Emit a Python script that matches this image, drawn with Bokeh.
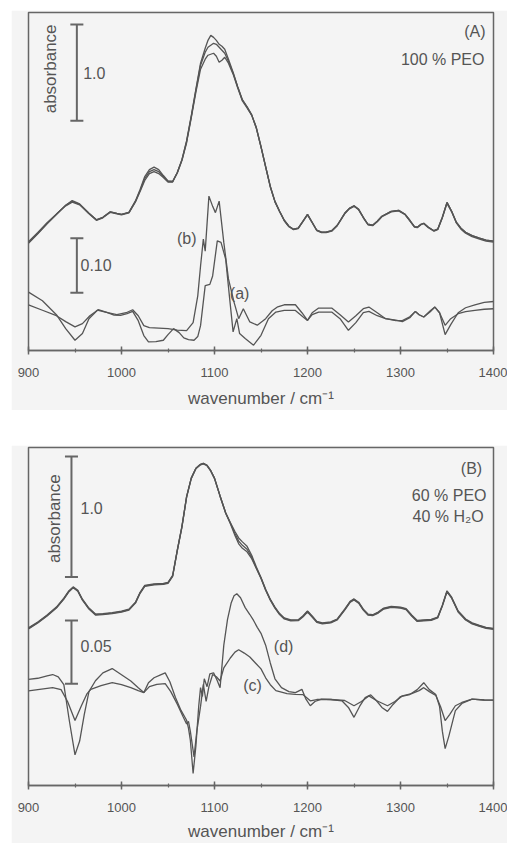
import math
from bokeh.plotting import figure
from bokeh.models import Range1d, SingleIntervalTicker, Spacer
from bokeh.layouts import column, row
from bokeh.embed import file_html
from bokeh.resources import INLINE
from bokeh.core.properties import value

# ---------------- data (y in plot units above the frame bottom) ----------
# Panel A: 100 % PEO, absorbance spectra (three nearly coincident curves)
A_WN = [900, 910, 920, 930, 940, 947, 955, 965, 973, 980,
        988, 995, 1000, 1008, 1015, 1020, 1025, 1030, 1035, 1040,
        1045, 1050, 1055, 1060, 1065, 1070, 1075, 1080, 1085, 1090,
        1093, 1096, 1099, 1102, 1105, 1108, 1111, 1115, 1120, 1125,
        1130, 1135, 1140, 1145, 1150, 1155, 1160, 1165, 1170, 1175,
        1180, 1185, 1190, 1195, 1200, 1205, 1210, 1215, 1220, 1226,
        1232, 1240, 1245, 1250, 1255, 1260, 1265, 1270, 1275, 1280,
        1290, 1298, 1305, 1310, 1315, 1318, 1322, 1325, 1330, 1336,
        1340, 1345, 1350, 1355, 1360, 1365, 1370, 1377, 1385, 1392,
        1400]
A_ABS_1 = [107.8, 117.3, 127.5, 136.8, 146.2, 150.8, 147.5, 138, 131.5, 134,
           139.5, 138, 137, 139, 150.5, 162, 175, 182, 184.5, 182,
           176, 170.5, 170, 179, 192, 211, 236, 263, 289, 304,
           312, 317, 315, 312, 308, 306, 303, 293, 280, 265,
           252, 245, 237, 224, 205, 185, 165, 150, 140, 131,
           125, 122, 123, 130, 137, 129, 121, 119, 119, 120.5,
           126, 138, 143, 145.5, 142, 134, 127, 126, 130, 135,
           140, 141, 137, 131, 124.5, 124, 127, 128, 124, 120.5,
           122, 134, 149, 140, 129, 123, 119, 115.5, 113, 111,
           110]
A_ABS_2 = [108.7, 118, 128, 137, 146, 150, 147, 138, 131.5, 134,
           139.5, 138, 137, 139, 150, 161, 173, 180, 182, 180,
           175, 170, 170, 179, 192, 210, 235, 262, 287, 300,
           305, 307, 309, 308, 305, 302, 299, 291, 279, 265,
           252, 245, 237, 224, 205, 185, 165, 150, 140, 131,
           125, 122, 123, 130, 137, 129, 121, 119, 119, 120.5,
           126, 138, 143, 145.5, 142, 134, 127, 126, 130, 135,
           140, 141, 137, 131, 124.5, 124, 127, 128, 124, 120.5,
           122, 134, 149, 140, 129, 123, 119, 115.5, 113, 111,
           110]
A_ABS_3 = [109.5, 118.8, 128.5, 137.2, 145.5, 149.3, 146.5, 137.5, 131, 133.5,
           139, 137.5, 136.5, 138.5, 149.5, 160, 171, 178, 180, 178,
           174, 169.5, 169.5, 178.5, 191, 209, 234, 260, 283, 293,
           297, 298, 299, 296, 290, 292, 295, 289, 278, 264,
           251, 244, 236.5, 223.5, 204.5, 184.5, 164.5, 149.5, 139.5, 130.5,
           124.5, 121.5, 122.5, 129.5, 136.5, 128.5, 120.5, 118.5, 118.5, 120,
           125.5, 137.5, 142.5, 145, 141.5, 133.5, 126.5, 125.5, 129.5, 134.5,
           139.5, 140.5, 136.5, 130.5, 124, 123.5, 126.5, 127.5, 123.5, 120,
           121.5, 133.5, 148, 139.5, 128.5, 122, 118, 114.5, 112, 110,
           109]

# Panel A difference spectra (a) and (b)
A_DA_WN = [900, 915, 930, 940, 950, 958, 965, 974, 985, 992,
           999, 1006, 1012, 1018, 1024, 1029, 1037, 1045, 1050, 1056,
           1062, 1067, 1072, 1078, 1082, 1085, 1090, 1095, 1098, 1103,
           1107, 1112, 1116, 1120, 1124, 1127, 1133, 1142, 1150, 1158,
           1166, 1175, 1187, 1195, 1200, 1205, 1212, 1226, 1235, 1244,
           1252, 1260, 1266, 1275, 1284, 1295, 1302, 1310, 1316, 1320,
           1325, 1332, 1337, 1342, 1348, 1354, 1362, 1370, 1380, 1390,
           1400]
A_DA = [58.7, 50, 36, 22, 10.3, 17, 32, 40.5, 38, 35.5,
        35.3, 37, 39.3, 30, 15, 8.7, 9, 10.3, 16, 22,
        18, 12.7, 11, 10.3, 14, 25, 65.3, 66.5, 75, 110.3,
        108.7, 92, 55, 18.7, 32, 17, 12, 5.3, 15.3, 32,
        38.7, 40.3, 40.3, 34, 30.3, 36, 38.7, 38.7, 32, 20.3,
        28, 38, 39.3, 35, 32, 30.5, 29, 33, 39.3, 36,
        33.7, 39, 43.7, 38, 16, 26, 38, 43, 46, 48.5,
        49.3]
A_DB_WN = [900, 915, 930, 940, 950, 958, 966, 975, 985, 995,
           1005, 1012, 1018, 1024, 1030, 1040, 1050, 1060, 1070, 1077,
           1082, 1085, 1088, 1090, 1094, 1098, 1101, 1105, 1110, 1115,
           1121, 1126, 1131, 1138, 1146, 1155, 1162, 1168, 1175, 1187,
           1194, 1200, 1205, 1212, 1226, 1235, 1244, 1252, 1260, 1266,
           1275, 1284, 1295, 1302, 1310, 1316, 1320, 1325, 1332, 1337,
           1342, 1348, 1354, 1362, 1370, 1380, 1390, 1400]
A_DB = [46, 40.5, 35, 29, 23.7, 27, 35, 41, 38, 36,
        38, 41, 35, 25, 23, 22.5, 22, 20.5, 20, 28,
        55, 85, 112, 100, 155.3, 145, 138.7, 150.3, 108.7, 72,
        48.7, 32, 42, 28.7, 25.5, 32, 40, 44, 46, 46,
        38, 30.3, 38, 42.7, 42.7, 36, 28.7, 35, 42, 43.7,
        38, 32, 30, 30, 34, 39.3, 36, 33.7, 40, 43.7,
        38, 25.3, 32, 37, 39, 40.3, 41.5, 42]

# Panel B: 60 % PEO / 40 % H2O absorbance spectra
B_WN = [900, 910, 920, 930, 938, 943, 948, 953, 958, 965,
        972, 980, 990, 1000, 1008, 1015, 1020, 1025, 1035, 1045,
        1050, 1055, 1060, 1065, 1070, 1075, 1080, 1085, 1088, 1092,
        1096, 1100, 1106, 1112, 1117, 1122, 1126, 1130, 1135, 1140,
        1145, 1150, 1155, 1160, 1165, 1170, 1175, 1182, 1190, 1195,
        1200, 1205, 1210, 1216, 1225, 1232, 1240, 1246, 1250, 1255,
        1260, 1265, 1270, 1276, 1282, 1290, 1300, 1306, 1312, 1318,
        1325, 1333, 1340, 1345, 1350, 1355, 1362, 1370, 1377, 1385,
        1392, 1400]
B_ABS_1 = [159.5, 165.5, 172.5, 180.5, 189.5, 196.5, 201, 197.5, 188.5, 179.5,
           173.5, 174, 175, 176.5, 178.5, 185.5, 195.5, 202.5, 204, 204.5,
           205.5, 212.5, 238.5, 262.5, 292.5, 311, 321, 325, 326, 324,
           318.5, 311, 293, 276, 266, 257, 250.5, 246.5, 242, 233,
           221, 210.5, 198.5, 188.5, 180.5, 174, 169.5, 167.5, 167.8, 171.5,
           176.5, 171.5, 166, 164.5, 165.5, 168.5, 178.5, 186.5, 188.8, 185.5,
           178.5, 173.5, 172.8, 175.5, 179.5, 181.2, 180.5, 179, 172.5, 167,
           167.5, 168, 170.5, 182.5, 197, 190.5, 176.5, 168.5, 164.5, 162,
           160, 159]
B_ABS_2 = [159, 165, 172, 180, 189, 196, 200.5, 197, 188, 179,
           173, 173.5, 174.5, 176, 178, 185, 195, 202, 203.5, 204,
           205, 212, 238, 262, 292, 311, 321, 325, 326, 324,
           318.5, 311, 293, 276, 265.7, 255, 247.3, 243, 239, 231,
           220, 210, 198, 188, 180, 173.5, 169, 167, 167.3, 171,
           176, 171, 165.5, 164, 165, 168, 178, 186, 188.3, 185,
           178, 173, 172.3, 175, 179, 180.7, 180, 178.5, 172, 166.5,
           167, 167.5, 170, 182, 196.5, 190, 176, 168, 164, 161.5,
           159.5, 158.5]
B_ABS_3 = [158.5, 164.5, 171.5, 179.5, 188.5, 195.5, 200, 196.5, 187.5, 178.5,
           172.5, 173, 174, 175.5, 177.5, 184.5, 194.5, 201.5, 203, 203.5,
           204.5, 211.5, 237.5, 261.5, 291.5, 310.5, 320.5, 324.5, 325.5, 323.5,
           318, 310.5, 292.5, 275.5, 265, 253, 244.5, 240, 236.5, 229.5,
           219.5, 209.5, 197.5, 187.5, 179.5, 173, 168.5, 166.5, 166.8, 170.5,
           175.5, 170.5, 165, 163.5, 164.5, 167.5, 177.5, 185.5, 187.8, 184.5,
           177.5, 172.5, 171.8, 174.5, 178.5, 180.2, 179.5, 178, 171.5, 166,
           166.5, 167, 169.5, 181.5, 196, 189.5, 175.5, 167.5, 163.5, 161,
           159, 158]

# Panel B difference spectra (c) and (d)
B_D_WN = [900, 910, 920, 926, 932, 938, 944, 950, 955, 960,
          965, 972, 980, 990, 1000, 1010, 1018, 1024, 1029, 1035,
          1042, 1047, 1052, 1058, 1064, 1070, 1072, 1074, 1077, 1080,
          1083, 1085, 1087, 1089, 1092, 1095, 1099, 1103, 1106, 1110,
          1114, 1118, 1121, 1124, 1128, 1133, 1138, 1142, 1146, 1150,
          1155, 1160, 1165, 1172, 1180, 1187, 1194, 1198, 1203, 1208,
          1215, 1225, 1237, 1244, 1250, 1256, 1262, 1268, 1274, 1280,
          1286, 1292, 1300, 1310, 1318, 1325, 1331, 1338, 1342, 1345,
          1348, 1352, 1359, 1366, 1377, 1390, 1400]
B_D = [107.3, 108.5, 111, 112.3, 110, 102, 65, 31, 45, 72,
       95, 106, 114, 118.3, 112, 105.7, 99, 94, 104, 109,
       112, 114, 105, 89, 76, 66, 58, 46, 12.3, 40,
       80, 99, 90, 108, 100, 113, 114, 106, 99, 142,
       168, 185, 192, 194, 190, 180, 173, 167, 160, 154,
       142, 124, 108, 99, 95, 94, 97.3, 88, 80.7, 85,
       87.3, 87, 85.7, 79, 69, 80, 89, 91.7, 86, 79,
       75, 82, 90, 92, 97, 104, 97, 92, 80, 55,
       37.3, 50, 75.7, 83, 87.3, 86.5, 86.3]
B_C_WN = [900, 910, 926, 935, 942, 950, 957, 963, 967, 978,
          990, 1000, 1010, 1018, 1024, 1030, 1038, 1047, 1053, 1060,
          1066, 1070, 1072, 1074, 1078, 1081, 1085, 1088, 1091, 1094,
          1098, 1102, 1106, 1110, 1117, 1122, 1126, 1132, 1138, 1144,
          1150, 1155, 1160, 1166, 1178, 1187, 1195, 1203, 1210, 1225,
          1240, 1250, 1258, 1266, 1274, 1286, 1294, 1302, 1312, 1320,
          1325, 1331, 1338, 1343, 1348, 1353, 1359, 1366, 1377, 1390,
          1400]
B_C = [95.7, 97, 99, 97, 85, 65.7, 81, 93, 97.3, 101,
       104, 102, 99, 96, 94, 100, 102.3, 103, 95, 82.3,
       70, 62.3, 65, 55, 29, 55, 80, 102.3, 85, 100,
       112.3, 110, 105.7, 119, 129, 135, 137.3, 134, 130, 124,
       118, 109, 102, 96, 93, 92.3, 92, 85.7, 87, 87,
       86, 80.7, 85, 90.7, 86, 80.7, 85, 90.7, 93, 96,
       99, 95, 91, 80, 65.7, 72, 80.7, 84, 87.3, 86.5,
       86.3]

X_LABEL = "wavenumber / cm\u207b\u00b9"

# ---------------- style ----------------
BG = "#f4f4f4"
LINE = "#555555"
FRAME = "#666666"
TXT = "#555555"
FONT = "Liberation Sans"


def make_fig(height, top, bottom, ymax, title_standoff):
    p = figure(width=496, height=height,
               x_range=Range1d(900, 1400), y_range=Range1d(0, ymax),
               output_backend="svg", toolbar_location=None, y_axis_location=None,
               min_border_left=17, min_border_right=14,
               min_border_top=top, min_border_bottom=bottom,
               background_fill_color=BG, border_fill_color=BG,
               outline_line_color=FRAME, outline_line_width=1.5)
    p.grid.visible = False
    ax = p.xaxis[0]
    ax.ticker = SingleIntervalTicker(interval=100, num_minor_ticks=2)
    ax.axis_line_color = FRAME
    ax.axis_line_width = 1.5
    ax.major_tick_line_color = FRAME
    ax.major_tick_line_width = 1.5
    ax.minor_tick_line_color = FRAME
    ax.minor_tick_line_width = 1.2
    ax.major_tick_in = 4
    ax.major_tick_out = 4
    ax.minor_tick_in = 2
    ax.minor_tick_out = 2
    ax.major_label_standoff = 13
    ax.major_label_text_font = FONT
    ax.major_label_text_font_size = "13px"
    ax.major_label_text_color = TXT
    ax.axis_label = X_LABEL
    ax.axis_label_text_font = FONT
    ax.axis_label_text_font_size = "17px"
    ax.axis_label_text_font_style = "normal"
    ax.axis_label_text_color = TXT
    ax.axis_label_standoff = title_standoff
    return p


def scale_bar(p, x, y0, y1, half=7):
    p.segment(x0=[x, x - half, x - half], y0=[y0, y0, y1],
              x1=[x, x + half, x + half], y1=[y1, y0, y1],
              line_color=FRAME, line_width=2)


def label(p, x, y, t, align, size="16px", angle=0.0):
    p.text(x=[x], y=[y], text=[t], angle=angle, text_font=value(FONT),
           text_font_size=size, text_color=TXT, text_align=align,
           text_baseline="middle")


# ---------------- panel A ----------------
pA = make_fig(400, 2, 58, 340, 9)
for ys in (A_ABS_1, A_ABS_2, A_ABS_3):
    pA.line(A_WN, ys, line_color=LINE, line_width=1.3)
pA.line(A_DA_WN, A_DA, line_color=LINE, line_width=1.3)
pA.line(A_DB_WN, A_DB, line_color=LINE, line_width=1.3)
scale_bar(pA, 952, 231, 328)
scale_bar(pA, 952, 58, 113)
label(pA, 923.7, 283.3, "absorbance", "center", "17px", math.pi / 2)
label(pA, 958.8, 279, "1.0", "left")
label(pA, 955.9, 86, "0.10", "left")
label(pA, 1391.4, 321, "(A)", "right")
label(pA, 1390.3, 292.7, "100 % PEO", "right")
label(pA, 1080.6, 112.7, "(b)", "right")
label(pA, 1116.5, 57, "(a)", "left")

# ---------------- panel B ----------------
pB = make_fig(398, 2, 54, 342, 7)
for ys in (B_ABS_1, B_ABS_2, B_ABS_3):
    pB.line(B_WN, ys, line_color=LINE, line_width=1.3)
pB.line(B_D_WN, B_D, line_color=LINE, line_width=1.3)
pB.line(B_C_WN, B_C, line_color=LINE, line_width=1.3)
scale_bar(pB, 946.2, 211, 333)
scale_bar(pB, 946.2, 103, 167)
label(pB, 928, 270, "absorbance", "center", "17px", math.pi / 2)
label(pB, 955.9, 280.7, "1.0", "left")
label(pB, 955.9, 140.7, "0.05", "left")
label(pB, 1387.8, 320.7, "(B)", "right")
label(pB, 1392.5, 293, "60 % PEO", "right")
label(pB, 1389.5, 271.7, "40 % H\u2082O", "right")
label(pB, 1163.8, 140.7, "(d)", "left")
label(pB, 1130.8, 100.7, "(c)", "left")

layout = column(
    Spacer(width=11, height=10),
    row(Spacer(width=11, height=10), pA),
    Spacer(width=11, height=35),
    row(Spacer(width=11, height=10), pB),
)

open("out.html", "w").write(file_html(layout, INLINE))
